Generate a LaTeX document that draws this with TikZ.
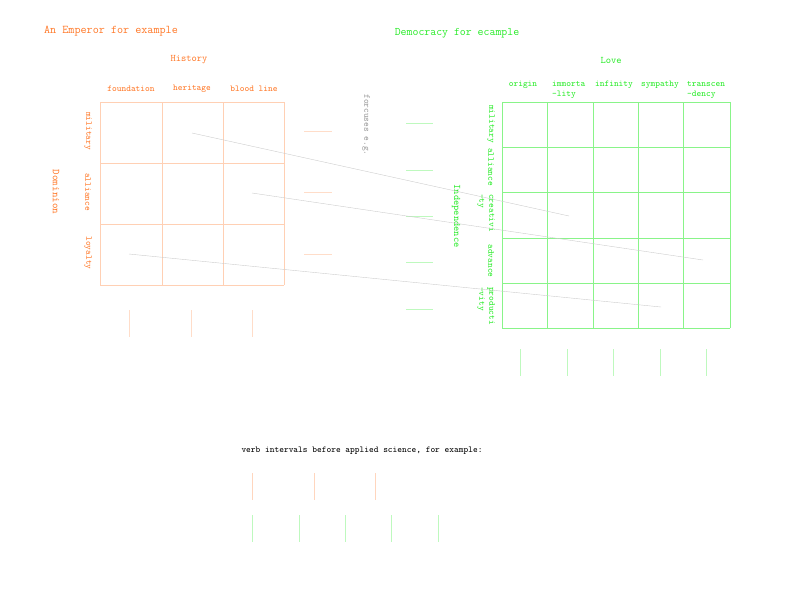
\documentclass[tikz,border=0pt]{standalone}
\usepackage{tikz}
\usetikzlibrary{positioning}
\definecolor{emp}{RGB}{255,120,40}
\definecolor{dem}{RGB}{40,235,40}
\tikzset{
    lbl/.style={font=\ttfamily\fontsize{9}{10}\selectfont, inner sep=1pt},
    ttl/.style={font=\ttfamily\fontsize{11.8}{13}\selectfont, inner sep=1pt},
    egrid/.style={draw=emp!35, line width=0.5pt},
    dgrid/.style={draw=dem!55, line width=0.5pt},
    link/.style={draw=black!20, line width=0.4pt}
}
\begin{document}
\begin{tikzpicture}[x=1pt, y=-1pt]
    \useasboundingbox (0,0) rectangle (800,600);

    % Emperor side
    \node[ttl, text=emp] (emperor) at (111,31) {An Emperor for example};
    \node[lbl, text=emp, font=\ttfamily\fontsize{10}{11}\selectfont] (history) at (189,60) {History};
    \node[lbl, text=emp, font=\ttfamily\fontsize{10.5}{11}\selectfont, rotate=-90] (dominion) at (56,192) {Dominion};
    \foreach \x in {100,162,223,284} \draw[egrid] (\x,102) -- (\x,285);
    \foreach \y in {102,163,224,285} \draw[egrid] (100,\y) -- (284,\y);
    \node[lbl, text=emp] (foundation) at (131,89) {foundation};
    \node[lbl, text=emp] (heritage) at (192,89) {heritage};
    \node[lbl, text=emp] (bloodline) at (254,89) {blood line};
    \node[lbl, text=emp, rotate=-90] (military) at (88,131) {military};
    \node[lbl, text=emp, rotate=-90] (alliance) at (88,192) {alliance};
    \node[lbl, text=emp, rotate=-90] (loyalty) at (88,253) {loyalty};
    \foreach \x in {129,191,252} \draw[emp!25] (\x,310) -- (\x,337);
    \foreach \y in {131,192,254} \draw[emp!25] (304,\y) -- (332,\y);

    \node[lbl, text=black!40, rotate=-90] (forcuses) at (366,125) {forcuses e.g.};
    \foreach \y in {123,170,216,262,309} \draw[dem!30] (406,\y) -- (433,\y);

    % Democracy side
    \node[ttl, text=dem, font=\ttfamily\fontsize{11.5}{12}\selectfont] (democracy) at (457,33) {Democracy for ecample};
    \node[lbl, text=dem, font=\ttfamily\fontsize{10}{11}\selectfont] (love) at (611,60) {Love};
    \node[lbl, text=dem, font=\ttfamily\fontsize{10}{11}\selectfont, rotate=-90] (independence) at (456,216) {Independence};
    \foreach \x in {502,547,593,638,683,730} \draw[dgrid] (\x,102) -- (\x,328);
    \foreach \y in {102,147,192,238,283,328} \draw[dgrid] (502,\y) -- (730,\y);
    \node[lbl, text=dem] (origin) at (523,85) {origin};
    \node[lbl, text=dem, anchor=north west, align=left] (immortality) at (551,80) {immorta\\-lity};
    \node[lbl, text=dem] (infinity) at (614,85) {infinity};
    \node[lbl, text=dem] (sympathy) at (660,85) {sympathy};
    \node[lbl, text=dem, anchor=north west, align=left] (transcendency) at (686,80) {transcen\\-dency};
    \node[lbl, text=dem, rotate=-90] (dmilitary) at (491,124) {military};
    \node[lbl, text=dem, rotate=-90] (dalliance) at (491,167) {alliance};
    \node[lbl, text=dem, rotate=-90, align=left] (creativity) at (486,213) {creativi\\-ty};
    \node[lbl, text=dem, rotate=-90] (advance) at (491,261) {advance};
    \node[lbl, text=dem, rotate=-90, align=left] (productivity) at (486,306) {producti\\-vity};
    \foreach \x in {520,567,613,660,706} \draw[dem!30] (\x,349) -- (\x,376);

    % links across
    \coordinate (a1) at (192,133); \coordinate (b1) at (569,216);
    \coordinate (a2) at (252,193); \coordinate (b2) at (703,260);
    \coordinate (a3) at (129,254); \coordinate (b3) at (661,307);
    \draw[link] (a1) -- (b1);
    \draw[link] (a2) -- (b2);
    \draw[link] (a3) -- (b3);

    % verb intervals
    \node[lbl, text=black] (verb) at (362,451) {verb intervals before applied science, for example:};
    \foreach \x in {252,314,375} \draw[emp!30] (\x,473) -- (\x,500);
    \foreach \x in {252,299,345,391,438} \draw[dem!30] (\x,515) -- (\x,542);
\end{tikzpicture}
\end{document}
